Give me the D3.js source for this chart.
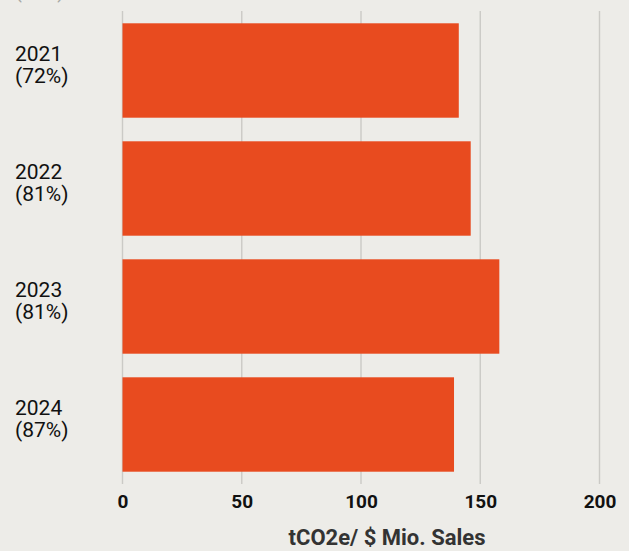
<!DOCTYPE html>
<html>
<head>
<meta charset="utf-8">
<script src="https://cdn.jsdelivr.net/npm/d3@7"></script>
<style>
  body { margin: 0; background: #edece8; }
  svg { display: block; font-family: Roboto, sans-serif; }
</style>
</head>
<body>
<svg id="chart" width="629" height="551"></svg>
<script>
const years = ['2021', '2022', '2023', '2024'];
const coverage = ['(72%)', '(81%)', '(81%)', '(87%)'];
const intensity = [141, 146, 158, 139];
const xTicks = [0, 50, 100, 150, 200];
const axisTitle = 'tCO2e/ $ Mio. Sales';

const svg = d3.select('#chart');

const x = d3.scaleLinear().domain([0, 200]).range([122.5, 599.5]);
const y = d3.scaleBand().domain(years).range([11.5, 483.5])
    .paddingInner(0.2).paddingOuter(0.1);

// cut-off header at the very top
svg.append('text')
    .attr('x', 15).attr('y', -2)
    .attr('fill', '#a9a9a6')
    .style('font-size', '20px')
    .text('(in %)');

// grid
svg.append('g').selectAll('line')
    .data(xTicks)
    .join('line')
    .attr('x1', d => x(d)).attr('x2', d => x(d))
    .attr('y1', 11).attr('y2', 484)
    .attr('stroke', '#cbcac6')
    .attr('stroke-width', 1.4);

// bars
svg.append('g').selectAll('rect')
    .data(years)
    .join('rect')
    .attr('x', x(0))
    .attr('y', d => y(d))
    .attr('width', (d, i) => x(intensity[i]) - x(0))
    .attr('height', y.bandwidth())
    .attr('fill', '#e84b1f');

// category labels
const labels = svg.append('g').selectAll('text')
    .data(years)
    .join('text')
    .attr('fill', '#111')
    .style('font-size', '21px');

labels.append('tspan')
    .attr('x', 15)
    .attr('y', d => y(d) + y.bandwidth() / 2 - 9.5)
    .text(d => d);
labels.append('tspan')
    .attr('x', 15)
    .attr('y', d => y(d) + y.bandwidth() / 2 + 12)
    .text((d, i) => coverage[i]);

// x axis tick labels
const xAxis = svg.append('g')
    .attr('transform', 'translate(0,' + 508 + ')')
    .call(d3.axisBottom(x).tickValues(xTicks).tickSize(0).tickPadding(0));
xAxis.select('.domain').remove();
xAxis.selectAll('text')
    .attr('dy', 0)
    .attr('fill', '#111')
    .style('font-family', 'Roboto, sans-serif')
    .style('font-size', '19px')
    .style('font-weight', 'bold');

// axis title
svg.append('text')
    .attr('x', 387).attr('y', 545)
    .attr('text-anchor', 'middle')
    .attr('fill', '#333')
    .style('font-size', '22px')
    .style('font-weight', 'bold')
    .text(axisTitle);
</script>
</body>
</html>
